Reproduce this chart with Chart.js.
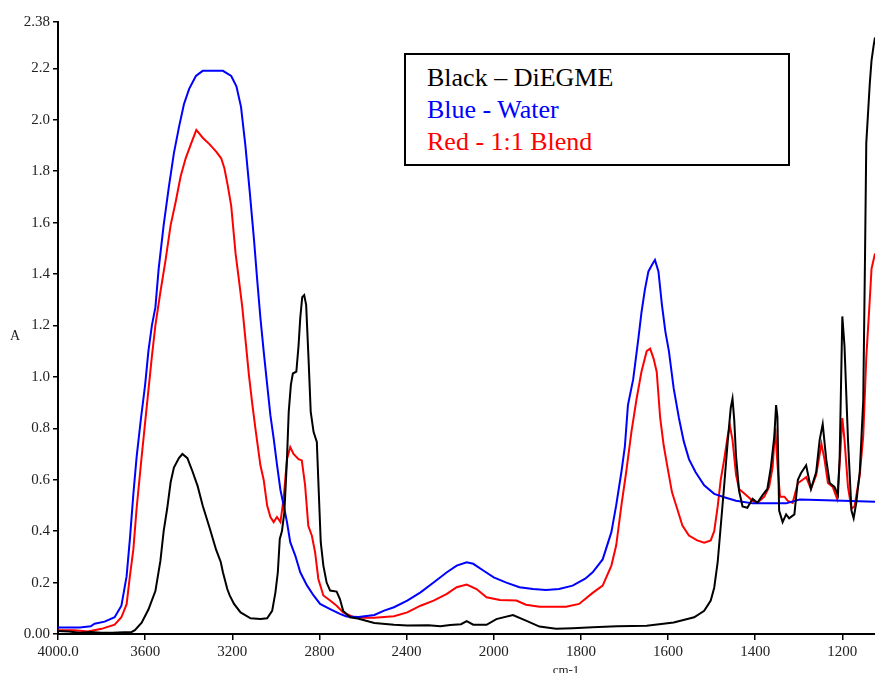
<!DOCTYPE html>
<html>
<head>
<meta charset="utf-8">
<script src="https://cdn.jsdelivr.net/npm/chart.js@4.4.1/dist/chart.umd.min.js"></script>
<style>
  html, body { margin: 0; padding: 0; background: #fff; }
  #wrap { position: relative; width: 875px; height: 673px; overflow: hidden; }
  #legendBox {
    position: absolute; left: 404px; top: 53px; width: 386px; height: 113px;
    box-sizing: border-box; border: 2px solid #000; background: #fff;
    font-family: "Liberation Serif", "Times New Roman", serif; font-size: 26px;
    line-height: 32px; padding-left: 21px; padding-top: 7px;
  }
</style>
</head>
<body>
<div id="wrap">
  <canvas id="c" width="875" height="673"></canvas>
  <div id="legendBox">
    <div style="color:#000">Black – DiEGME</div>
    <div style="color:#0000ff">Blue - Water</div>
    <div style="color:#ff0000">Red - 1:1 Blend</div>
  </div>
</div>
<script>
// ---- Data (wavenumber in cm-1, absorbance A) ----
const waterWavenumbers = [4000,3900,3850,3832,3786,3740,3709,3685,3670,3654,3639,3619,3600,3585,3569,3553,3538,3515,3491,3468,3445,3422,3398,3367,3336,3290,3243,3205,3181,3160,3140,3120,3100,3086,3071,3056,3040,3025,3010,2995,2979,2964,2949,2934,2911,2888,2858,2827,2797,2751,2706,2676,2620,2548,2503,2458,2397,2336,2276,2215,2170,2124,2094,2048,2000,1971,1941,1910,1880,1850,1819,1790,1773,1750,1730,1719,1707,1699,1692,1680,1668,1661,1653,1645,1637,1630,1622,1614,1606,1598,1587,1575,1564,1552,1537,1517,1494,1471,1444,1406,1329,1298,1198,1125];
const waterAbsorbance = [0.025,0.025,0.03,0.04,0.048,0.065,0.11,0.225,0.37,0.545,0.69,0.84,0.97,1.10,1.20,1.27,1.42,1.59,1.74,1.87,1.97,2.06,2.12,2.17,2.19,2.19,2.19,2.17,2.13,2.05,1.90,1.72,1.53,1.38,1.23,1.10,0.97,0.85,0.76,0.66,0.56,0.50,0.435,0.357,0.305,0.24,0.19,0.15,0.117,0.097,0.078,0.068,0.066,0.074,0.091,0.104,0.13,0.162,0.20,0.24,0.266,0.279,0.273,0.247,0.22,0.20,0.182,0.175,0.171,0.175,0.188,0.215,0.24,0.29,0.396,0.50,0.63,0.73,0.89,0.99,1.15,1.25,1.34,1.41,1.435,1.455,1.41,1.28,1.175,1.10,0.955,0.84,0.75,0.68,0.63,0.578,0.545,0.532,0.518,0.508,0.508,0.523,0.518,0.514];

const blendWavenumbers = [4000,3925,3863,3800,3740,3709,3685,3670,3654,3639,3616,3592,3569,3553,3530,3507,3483,3460,3437,3414,3390,3365,3350,3336,3305,3274,3251,3236,3220,3205,3185,3170,3154,3139,3124,3109,3094,3071,3056,3040,3025,3010,2995,2979,2964,2949,2934,2919,2896,2881,2866,2851,2835,2820,2805,2782,2751,2721,2691,2645,2600,2548,2458,2397,2336,2276,2215,2170,2124,2079,2033,1986,1948,1926,1895,1834,1804,1773,1750,1730,1719,1707,1696,1684,1672,1661,1649,1641,1633,1626,1618,1610,1602,1591,1579,1567,1552,1533,1517,1502,1494,1486,1479,1471,1463,1458,1452,1444,1437,1421,1406,1395,1379,1368,1360,1354,1349,1343,1333,1325,1314,1302,1291,1283,1272,1260,1248,1241,1233,1222,1212,1206,1200,1195,1187,1179,1172,1160,1152,1145,1137,1133,1125];
const blendAbsorbance = [0.015,0.015,0.01,0.02,0.036,0.065,0.116,0.225,0.33,0.49,0.69,0.89,1.08,1.20,1.33,1.45,1.59,1.68,1.78,1.85,1.905,1.96,1.945,1.93,1.905,1.876,1.85,1.81,1.74,1.665,1.48,1.38,1.27,1.14,1.01,0.90,0.80,0.656,0.60,0.50,0.455,0.435,0.455,0.435,0.53,0.68,0.727,0.70,0.68,0.675,0.58,0.42,0.383,0.318,0.214,0.15,0.13,0.11,0.084,0.066,0.063,0.063,0.069,0.084,0.11,0.13,0.156,0.182,0.192,0.175,0.143,0.132,0.13,0.114,0.106,0.106,0.117,0.16,0.188,0.266,0.344,0.50,0.63,0.786,0.916,1.02,1.10,1.11,1.07,1.02,0.84,0.734,0.656,0.552,0.487,0.422,0.383,0.364,0.355,0.364,0.40,0.496,0.60,0.68,0.77,0.81,0.755,0.62,0.564,0.541,0.518,0.51,0.534,0.572,0.648,0.80,0.664,0.534,0.534,0.518,0.51,0.587,0.60,0.61,0.564,0.618,0.74,0.68,0.587,0.572,0.526,0.664,0.84,0.755,0.572,0.488,0.496,0.618,0.77,1.075,1.30,1.42,1.48];

const diegmeWavenumbers = [4000,3950,3900,3850,3800,3750,3700,3662,3647,3616,3585,3553,3530,3515,3499,3483,3468,3445,3429,3406,3383,3359,3336,3305,3274,3253,3243,3223,3212,3192,3162,3116,3071,3040,3017,3002,2991,2982,2972,2961,2949,2941,2931,2922,2906,2896,2888,2879,2870,2861,2850,2840,2827,2812,2803,2794,2782,2767,2751,2721,2706,2691,2660,2624,2548,2458,2397,2300,2245,2200,2150,2124,2094,2033,1994,1956,1926,1895,1857,1819,1773,1717,1649,1587,1540,1517,1502,1494,1486,1479,1471,1463,1456,1452,1448,1444,1437,1429,1418,1406,1395,1383,1372,1364,1356,1352,1349,1345,1337,1329,1322,1310,1302,1295,1283,1272,1260,1252,1245,1237,1229,1218,1210,1206,1200,1195,1187,1179,1174,1168,1160,1152,1148,1145,1137,1133,1128,1125];
const diegmeAbsorbance = [0.012,0.01,0.005,0.008,0.005,0.005,0.007,0.008,0.015,0.044,0.095,0.167,0.284,0.40,0.487,0.59,0.647,0.684,0.70,0.684,0.633,0.575,0.50,0.415,0.327,0.28,0.24,0.175,0.15,0.117,0.084,0.061,0.058,0.061,0.09,0.162,0.24,0.37,0.40,0.474,0.68,0.864,0.97,1.013,1.02,1.12,1.23,1.31,1.318,1.28,1.07,0.864,0.786,0.747,0.55,0.357,0.266,0.20,0.169,0.165,0.136,0.09,0.065,0.06,0.043,0.036,0.033,0.034,0.03,0.035,0.038,0.05,0.036,0.036,0.058,0.074,0.052,0.029,0.02,0.022,0.026,0.03,0.032,0.045,0.065,0.09,0.13,0.18,0.28,0.42,0.58,0.75,0.88,0.915,0.831,0.694,0.557,0.496,0.491,0.526,0.51,0.54,0.564,0.648,0.77,0.89,0.846,0.48,0.435,0.465,0.45,0.465,0.60,0.625,0.656,0.564,0.63,0.755,0.816,0.68,0.587,0.572,0.541,0.694,1.235,1.12,0.755,0.48,0.45,0.51,0.63,0.907,1.456,1.91,2.14,2.23,2.29,2.32];

const xTickWavenumbers = [4000,3600,3200,2800,2400,2000,1800,1600,1400,1200];
const yTickValues = [0,0.2,0.4,0.6,0.8,1.0,1.2,1.4,1.6,1.8,2.0,2.2,2.38];
const xLowEnd = 1125;

// Axis is expanded 2x below 2000 cm-1 (scale change typical of IR plots)
const BREAK = 2000;
function toAxis(w) { return w >= BREAK ? w : 2 * w - BREAK; }
function fromAxis(u) { return u >= BREAK ? u : (u + BREAK) / 2; }
function toPoints(ws, vs) { return ws.map((w, i) => ({ x: toAxis(w), y: vs[i] })); }

const serif = '"Liberation Serif", "Times New Roman", serif';

const labelPlugin = {
  id: 'axisLabels',
  afterDraw(chart) {
    const ctx = chart.ctx;
    ctx.save();
    ctx.fillStyle = '#222';
    ctx.font = '14px ' + serif;
    ctx.textAlign = 'center';
    ctx.textBaseline = 'middle';
    ctx.fillText('A', 15, 336);
    ctx.font = '13px ' + serif;
    ctx.textBaseline = 'top';
    ctx.fillText('cm-1', 566, 664);
    ctx.restore();
  }
};

new Chart(document.getElementById('c'), {
  type: 'line',
  data: {
    datasets: [
      { label: 'DiEGME', data: toPoints(diegmeWavenumbers, diegmeAbsorbance), borderColor: '#000000', borderWidth: 2, pointRadius: 0, fill: false, tension: 0 },
      { label: 'Water', data: toPoints(waterWavenumbers, waterAbsorbance), borderColor: '#0000ff', borderWidth: 2, pointRadius: 0, fill: false, tension: 0 },
      { label: '1:1 Blend', data: toPoints(blendWavenumbers, blendAbsorbance), borderColor: '#ff0000', borderWidth: 2, pointRadius: 0, fill: false, tension: 0 }
    ]
  },
  options: {
    responsive: false,
    animation: false,
    layout: { padding: { top: 22, right: 0, left: 0, bottom: 0 } },
    plugins: { legend: { display: false }, tooltip: { enabled: false } },
    scales: {
      x: {
        type: 'linear',
        reverse: true,
        min: toAxis(xLowEnd),
        max: 4000,
        afterBuildTicks: (s) => { s.ticks = xTickWavenumbers.map(w => ({ value: toAxis(w) })); },
        afterFit: (s) => { s.height = 39; },
        ticks: {
          autoSkip: false, maxRotation: 0, padding: 3,
          color: '#222', font: { family: serif, size: 15 },
          callback: (v) => { const w = fromAxis(v); return w === 4000 ? '4000.0' : String(Math.round(w)); }
        },
        grid: { drawOnChartArea: false, drawTicks: true, tickLength: 6, color: '#000', lineWidth: 1.5 },
        border: { display: true, color: '#000', width: 2 }
      },
      y: {
        type: 'linear',
        min: 0,
        max: 2.38,
        afterBuildTicks: (s) => { s.ticks = yTickValues.map(v => ({ value: v })); },
        afterFit: (s) => { s.width = 58; },
        ticks: {
          autoSkip: false, padding: 3,
          color: '#222', font: { family: serif, size: 15 },
          callback: (v) => v === 0 ? '0.00' : (v === 2.38 ? '2.38' : v.toFixed(1))
        },
        grid: { drawOnChartArea: false, drawTicks: true, tickLength: 5, color: '#000', lineWidth: 1.5 },
        border: { display: true, color: '#000', width: 2 }
      }
    }
  },
  plugins: [labelPlugin]
});
</script>
</body>
</html>
